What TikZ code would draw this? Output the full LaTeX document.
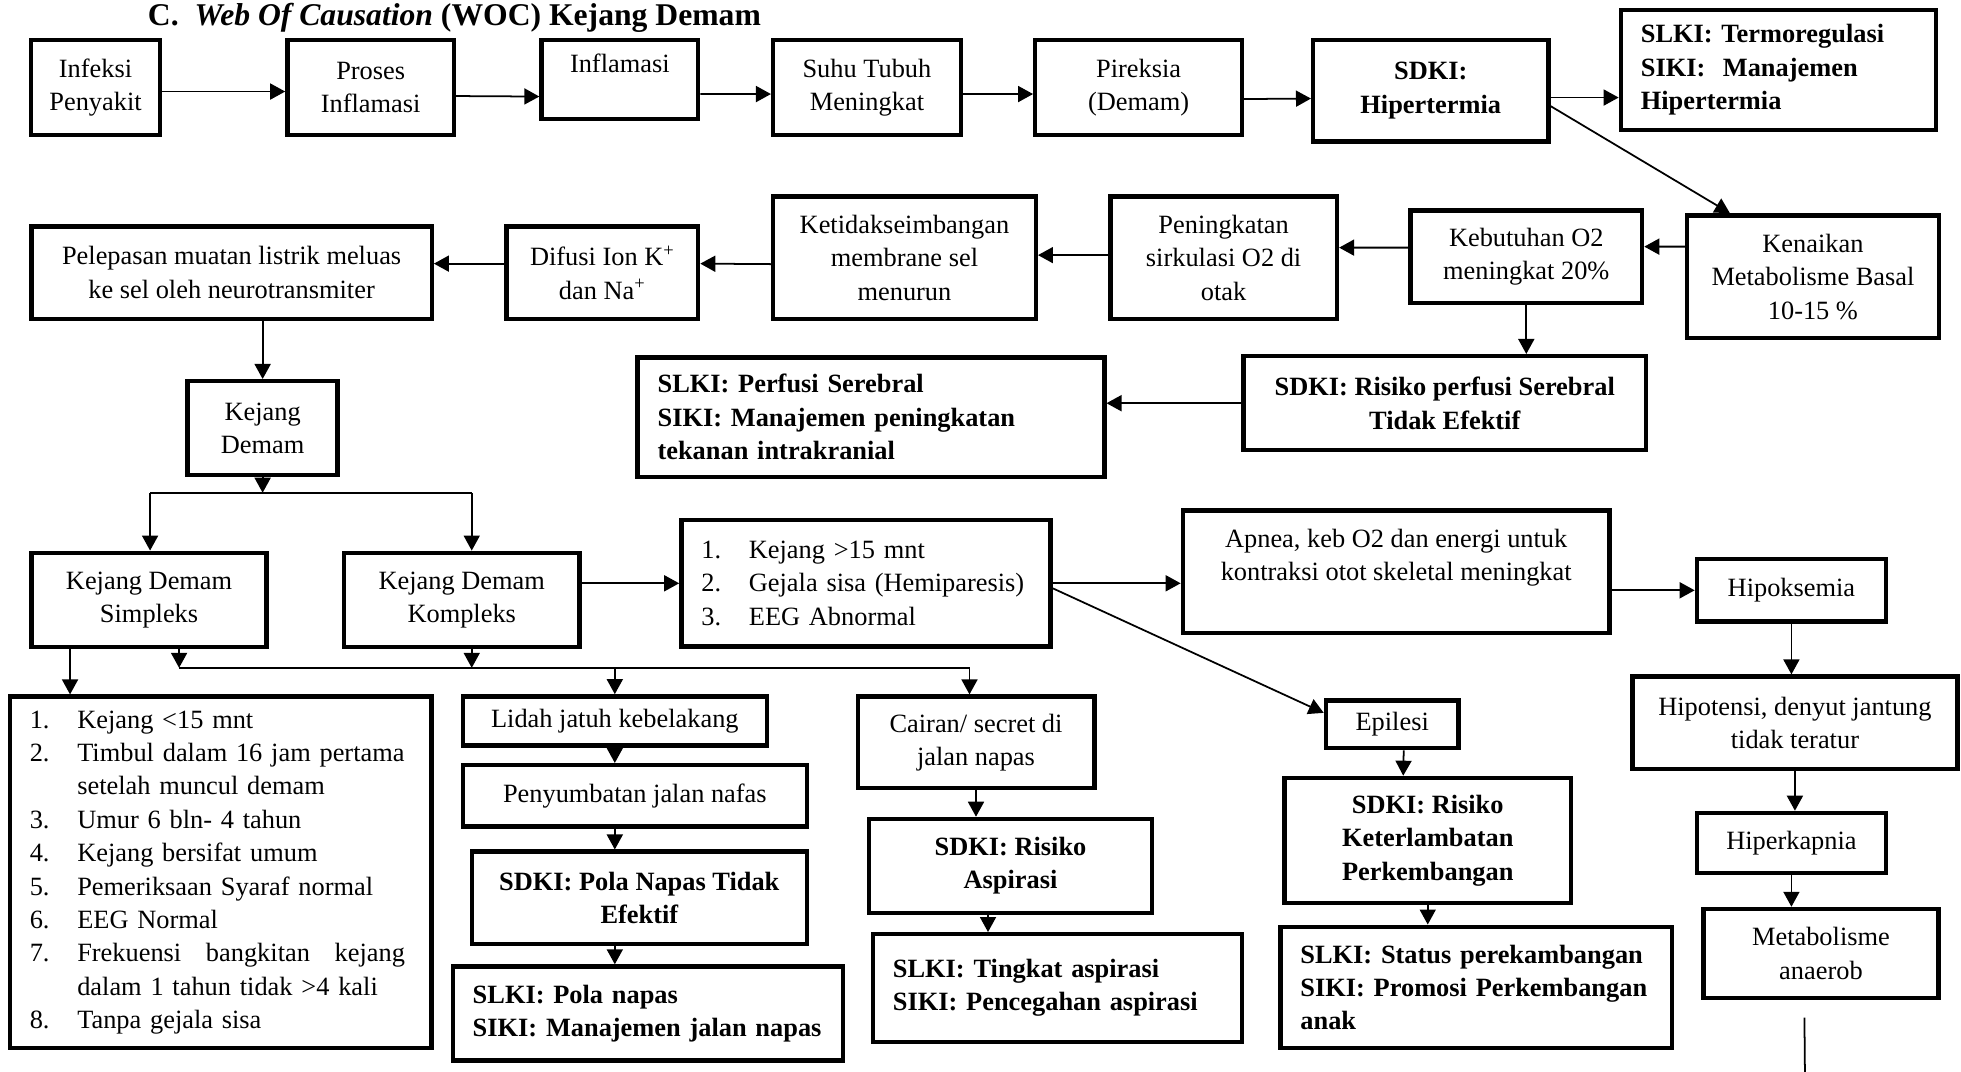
\documentclass[tikz,border=0pt]{standalone}
\usepackage{fontspec}
\setmainfont{Liberation Serif}
\usepackage{tikz}
\usetikzlibrary{arrows.meta}
\frenchspacing
\newcommand{\itm}[1]{\makebox[0.95cm][l]{#1.}}

\begin{document}
\begin{tikzpicture}[
  block/.style={
    rectangle, draw, line width=2.5pt, align=center,
    font=\fontsize{15}{19}\selectfont, inner sep=2pt
  },
  sdki/.style={block, font=\fontsize{15}{19}\selectfont\bfseries},
  plan/.style={block, font=\fontsize{15}{19}\selectfont\bfseries, align=left, inner xsep=0.4cm},
  listbox/.style={block, align=left, inner xsep=0.4cm},
  arrow/.style={-{Triangle[length=3mm, width=3.2mm]}, line width=1pt},
  link/.style={line width=1pt}
]

\useasboundingbox (0,0) rectangle (39.2,-21.425);

% ==================== NODES ====================
% Title
\node[anchor=west, inner sep=0pt, font=\fontsize{18}{22}\selectfont\bfseries] (title) at (2.95,-0.35) {C.\ \ \textit{Web Of Causation} (WOC) Kejang Demam};

% Row 1: infection to hyperthermia
\node[block, minimum width=2.58cm, minimum height=1.9cm] (infeksi) at (1.91,-1.75) {Infeksi\\Penyakit};
\node[block, minimum width=3.33cm, minimum height=1.9cm] (proses) at (7.41,-1.75) {Proses\\Inflamasi};
\node[block, minimum width=3.13cm, minimum height=1.58cm] (inflamasi) at (12.39,-1.59) {Inflamasi\\\mbox{}};
\node[block, minimum width=3.75cm, minimum height=1.9cm] (suhu) at (17.33,-1.75) {Suhu Tubuh\\Meningkat};
\node[block, minimum width=4.13cm, minimum height=1.9cm] (pireksia) at (22.76,-1.75) {Pireksia\\(Demam)};
\node[sdki, minimum width=4.7cm, minimum height=2.03cm] (hipertermia) at (28.6,-1.81) {SDKI:\\Hipertermia};
\node[plan, text width=5.5cm, minimum height=2.4cm] (termoregulasi) at (35.55,-1.4) {SLKI: Termoregulasi\\SIKI:~ Manajemen\\Hipertermia};

% Row 2: metabolism back to discharge
\node[block, minimum width=5.03cm, minimum height=2.45cm] (metabasal) at (36.24,-5.53) {Kenaikan\\Metabolisme Basal\\10-15 \%};
\node[block, minimum width=4.63cm, minimum height=1.85cm] (kebutuhan) at (30.51,-5.13) {Kebutuhan O2\\meningkat 20\%};
\node[block, minimum width=4.53cm, minimum height=2.45cm] (sirkulasi) at (24.46,-5.15) {Peningkatan\\sirkulasi O2 di\\otak};
\node[block, minimum width=5.25cm, minimum height=2.45cm] (membran) at (18.08,-5.15) {Ketidakseimbangan\\membrane sel\\menurun};
\node[block, minimum width=3.83cm, minimum height=1.85cm] (difusi) at (12.04,-5.45) {Difusi Ion K\textsuperscript{+}\\dan Na\textsuperscript{+}};
\node[block, minimum width=8.0cm, minimum height=1.85cm] (pelepasan) at (4.63,-5.45) {Pelepasan muatan listrik meluas\\ke sel oleh neurotransmiter};

% Perfusion diagnosis
\node[sdki, minimum width=8.05cm, minimum height=1.88cm] (perfusi) at (28.88,-8.06) {SDKI: Risiko perfusi Serebral\\Tidak Efektif};
\node[plan, text width=8.53cm, minimum height=2.38cm] (serebral) at (17.41,-8.34) {SLKI: Perfusi Serebral\\SIKI: Manajemen peningkatan\\tekanan intrakranial};
\node[block, minimum width=3.0cm, minimum height=1.88cm] (kejang) at (5.25,-8.56) {Kejang\\Demam};

% Row 3: seizure types
\node[block, minimum width=4.7cm, minimum height=1.88cm] (simpleks) at (2.98,-11.99) {Kejang Demam\\Simpleks};
\node[block, minimum width=4.7cm, minimum height=1.88cm] (kompleks) at (9.23,-11.99) {Kejang Demam\\Kompleks};
\node[listbox, text width=6.58cm, minimum height=2.53cm] (cirikompleks) at (17.31,-11.66) {\itm{1}Kejang >15 mnt\\\itm{2}Gejala sisa (Hemiparesis)\\\itm{3}EEG Abnormal};
\node[block, minimum width=8.53cm, minimum height=2.45cm] (apnea) at (27.91,-11.43) {Apnea, keb O2 dan energi untuk\\kontraksi otot skeletal meningkat\\\mbox{}};
\node[block, minimum width=3.78cm, minimum height=1.25cm] (hipoksemia) at (35.81,-11.8) {Hipoksemia};

% Row 4: simple seizure criteria
\node[listbox, text width=7.63cm, minimum height=7.03cm] (cirisimpleks) at (4.41,-17.44) {\itm{1}Kejang <15 mnt\\
  \itm{2}Timbul dalam 16 jam pertama\\
  \hspace*{0.95cm}setelah muncul demam\\
  \itm{3}Umur 6 bln- 4 tahun\\
  \itm{4}Kejang bersifat umum\\
  \itm{5}Pemeriksaan Syaraf normal\\
  \itm{6}EEG Normal\\
  \itm{7}\makebox[6.55cm][l]{Frekuensi\hfill bangkitan\hfill kejang}\\
  \hspace*{0.95cm}dalam 1 tahun tidak >4 kali\\
  \itm{8}Tanpa gejala sisa};

% Airway branch
\node[block, minimum width=6.08cm, minimum height=0.98cm] (lidah) at (12.29,-14.41) {Lidah jatuh kebelakang};
\node[block, minimum width=6.88cm, minimum height=1.23cm] (sumbatan) at (12.69,-15.91) {Penyumbatan jalan nafas};
\node[sdki, minimum width=6.7cm, minimum height=1.85cm] (polanapas) at (12.78,-17.95) {SDKI: Pola Napas Tidak\\Efektif};
\node[plan, text width=7.0cm, minimum height=1.88cm] (manajemennapas) at (12.95,-20.26) {SLKI: Pola napas\\SIKI: Manajemen jalan napas};

% Aspiration branch
\node[block, minimum width=4.73cm, minimum height=1.83cm] (cairan) at (19.51,-14.84) {Cairan/ secret di\\jalan napas};
\node[sdki, minimum width=5.65cm, minimum height=1.88cm] (aspirasi) at (20.2,-17.31) {SDKI: Risiko\\Aspirasi};
\node[plan, text width=6.58cm, minimum height=2.15cm] (cegahaspirasi) at (21.14,-19.75) {SLKI: Tingkat aspirasi\\SIKI: Pencegahan aspirasi};

% Epilepsy branch
\node[block, minimum width=2.65cm, minimum height=0.95cm] (epilesi) at (27.83,-14.48) {Epilesi};
\node[sdki, minimum width=5.73cm, minimum height=2.5cm] (keterlambatan) at (28.54,-16.8) {SDKI: Risiko\\Keterlambatan\\Perkembangan};
\node[plan, text width=7.03cm, minimum height=2.43cm] (promosi) at (29.51,-19.74) {SLKI: Status perekambangan\\SIKI: Promosi Perkembangan\\anak};

% Hypoxia column
\node[block, minimum width=6.5cm, minimum height=1.85cm] (hipotensi) at (35.88,-14.45) {Hipotensi, denyut jantung\\tidak teratur};
\node[block, minimum width=3.78cm, minimum height=1.2cm] (hiperkapnia) at (35.81,-16.85) {Hiperkapnia};
\node[block, minimum width=4.7cm, minimum height=1.78cm] (anaerob) at (36.4,-19.06) {Metabolisme\\anaerob};

% Split points
\coordinate (busA) at (3.0,-9.85);
\coordinate (busB) at (9.43,-9.85);
\coordinate (busC) at (3.58,-13.35);
\coordinate (busD) at (19.38,-13.35);
\coordinate (tailend) at (36.08,-21.43);

% ==================== CONNECTIONS ====================
% Row 1
\draw[arrow] ([yshift=-0.08cm]infeksi.east) -- ([yshift=-0.08cm]proses.west);
\draw[arrow] ([yshift=-0.17cm]proses.east) -- ([yshift=-0.34cm]inflamasi.west);
\draw[arrow] ([yshift=-0.29cm]inflamasi.east) -- ([yshift=-0.13cm]suhu.west);
\draw[arrow] ([yshift=-0.13cm]suhu.east) -- ([yshift=-0.13cm]pireksia.west);
\draw[arrow] ([yshift=-0.23cm]pireksia.east) -- ([yshift=-0.16cm]hipertermia.west);
\draw[arrow] ([yshift=-0.14cm]hipertermia.east) -- ([yshift=-0.55cm]termoregulasi.west);
\draw[arrow] ([yshift=-0.31cm]hipertermia.east) -- ([xshift=-1.66cm]metabasal.north);

% Row 2
\draw[arrow] ([yshift=0.6cm]metabasal.west) -- ([yshift=0.2cm]kebutuhan.east);
\draw[arrow] ([yshift=0.18cm]kebutuhan.west) -- ([yshift=0.2cm]sirkulasi.east);
\draw[arrow] ([yshift=0.05cm]sirkulasi.west) -- ([yshift=0.05cm]membran.east);
\draw[arrow] ([yshift=-0.13cm]membran.west) -- ([yshift=0.18cm]difusi.east);
\draw[arrow] ([yshift=0.18cm]difusi.west) -- ([yshift=0.18cm]pelepasan.east);
\draw[arrow] (kebutuhan.south) -- (kebutuhan.south |- perfusi.north);
\draw[arrow] (perfusi.west) -- (perfusi.west -| serebral.east);
\draw[arrow] (kejang.north |- pelepasan.south) -- (kejang.north);

% Kejang split
\draw[arrow] (kejang.south) -- (kejang.south |- busA);
\draw[link] (busA) -- (busB);
\draw[arrow] (busA) -- (busA |- simpleks.north);
\draw[arrow] (busB) -- (busB |- kompleks.north);

% Row 3
\draw[arrow] (cirikompleks.west -| kompleks.east) -- (cirikompleks.west);
\draw[arrow] (cirikompleks.east) -- (cirikompleks.east -| apnea.west);
\draw[arrow] (hipoksemia.west -| apnea.east) -- (hipoksemia.west);
\draw[arrow] ([yshift=-0.1cm]cirikompleks.east) -- ([yshift=0.23cm]epilesi.west);

% Simpleks and Kompleks to lower branches
\draw[arrow] ([xshift=-1.58cm]simpleks.south) -- ([xshift=-3.01cm]cirisimpleks.north);
\draw[link] (busC) -- (busD);
\draw[arrow] ([xshift=0.6cm]simpleks.south) -- (busC);
\draw[arrow] (busB |- kompleks.south) -- (busB |- busC);
\draw[arrow] (lidah.north |- busC) -- (lidah.north);
\draw[arrow] (busD) -- (busD |- cairan.north);

% Airway
\draw[arrow] (lidah.south) -- (lidah.south |- sumbatan.north);
\draw[arrow] (sumbatan.south -| lidah.south) -- (polanapas.north -| lidah.south);
\draw[arrow] (polanapas.south -| lidah.south) -- (manajemennapas.north -| lidah.south);

% Aspiration
\draw[arrow] (cairan.south) -- (cairan.south |- aspirasi.north);
\draw[arrow] ([xshift=-0.45cm]aspirasi.south) -- ([xshift=-1.39cm]cegahaspirasi.north);

% Epilepsy
\draw[arrow] ([xshift=0.23cm]epilesi.south) -- ([xshift=-0.49cm]keterlambatan.north);
\draw[arrow] (keterlambatan.south) -- (keterlambatan.south |- promosi.north);

% Hypoxia column
\draw[arrow] (hipoksemia.south) -- (hipoksemia.south |- hipotensi.north);
\draw[arrow] (hipotensi.south) -- (hipotensi.south |- hiperkapnia.north);
\draw[arrow] (hiperkapnia.south) -- (hiperkapnia.south |- anaerob.north);
\draw[link] ([xshift=-0.33cm, yshift=-0.35cm]anaerob.south) -- (tailend);
\end{tikzpicture}
\end{document}
